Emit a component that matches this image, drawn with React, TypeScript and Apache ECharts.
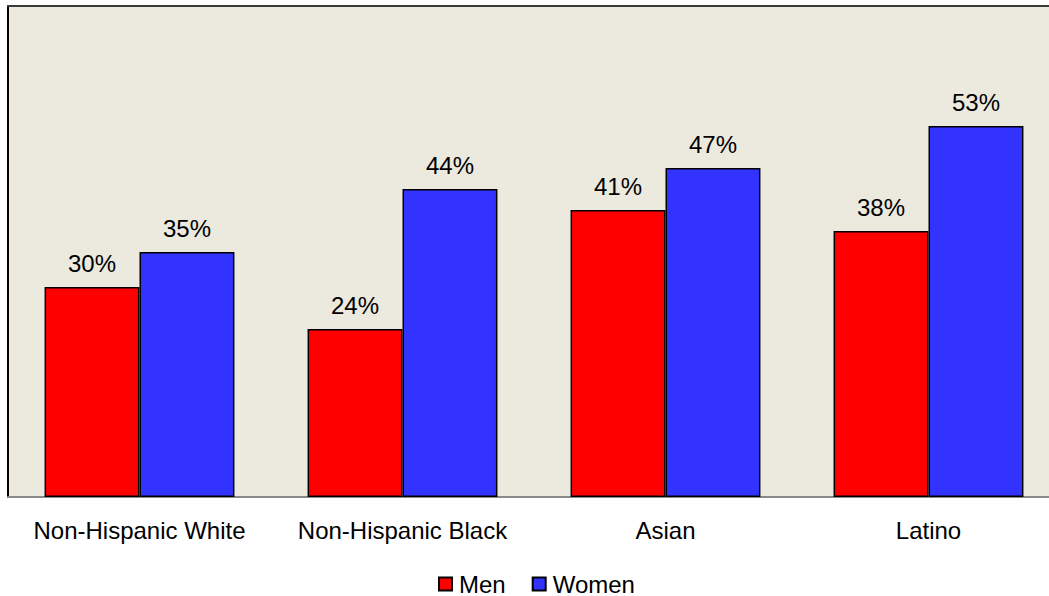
import React, { useEffect, useRef } from "react";
import * as echarts from "echarts";

const categories = ["Non-Hispanic White", "Non-Hispanic Black", "Asian", "Latino"];
const menValues = [30, 24, 41, 38];
const womenValues = [35, 44, 47, 53];
const seriesNames = ["Men", "Women"];

const FONT = "'Liberation Sans', Arial, sans-serif";

export default function App() {
  const ref = useRef<HTMLDivElement>(null);

  useEffect(() => {
    if (!ref.current) return;
    const chart = echarts.init(ref.current, undefined, { renderer: "svg" });
    const label = {
      show: true,
      position: "top" as const,
      distance: 12,
      formatter: "{c}%",
      color: "#000",
      fontFamily: FONT,
      fontSize: 24,
    };
    chart.setOption({
      animation: false,
      backgroundColor: "#ffffff",
      grid: {
        left: 8,
        right: 0,
        top: 7,
        bottom: 99,
        show: true,
        backgroundColor: "#ECE9DF",
        borderWidth: 0,
      },
      legend: {
        data: seriesNames,
        left: 438,
        top: 572,
        padding: 0,
        itemWidth: 13,
        itemHeight: 13,
        itemGap: 26,
        icon: "rect",
        textStyle: { color: "#000", fontFamily: FONT, fontSize: 24, lineHeight: 24, padding: [0, 0, 0, 2] },
      },
      xAxis: {
        type: "category",
        data: categories,
        axisLine: { show: true, lineStyle: { color: "#8a8a8a", width: 2 } },
        axisTick: { show: false },
        axisLabel: {
          margin: 21,
          color: "#000",
          fontFamily: FONT,
          fontSize: 24,
          interval: 0,
        },
      },
      yAxis: {
        type: "value",
        min: 0,
        max: 70,
        interval: 10,
        axisLine: { show: true, lineStyle: { color: "#000", width: 2 } },
        axisTick: { show: false },
        axisLabel: { show: false },
        splitLine: { show: false },
      },
      graphic: [
        {
          type: "line",
          shape: { x1: 7, y1: 6, x2: 1060, y2: 6 },
          style: { stroke: "#3a3a3a", lineWidth: 2 },
          z: 10,
        },
      ],
      series: [
        {
          name: seriesNames[0],
          type: "bar",
          data: menValues,
          barGap: "0%",
          barCategoryGap: "27.8%",
          itemStyle: { color: "#FF0000", borderColor: "#000", borderWidth: 1.5 },
          label,
        },
        {
          name: seriesNames[1],
          type: "bar",
          data: womenValues,
          barGap: "0%",
          barCategoryGap: "27.8%",
          itemStyle: { color: "#3333FF", borderColor: "#000", borderWidth: 1.5 },
          label,
        },
      ],
    });
    return () => chart.dispose();
  }, []);

  return (
    <div
      style={{
        position: "absolute",
        left: 0,
        top: 0,
        width: 1049,
        height: 596,
        overflow: "hidden",
      }}
    >
      <div ref={ref} style={{ width: 1060, height: 596 }} />
    </div>
  );
}
